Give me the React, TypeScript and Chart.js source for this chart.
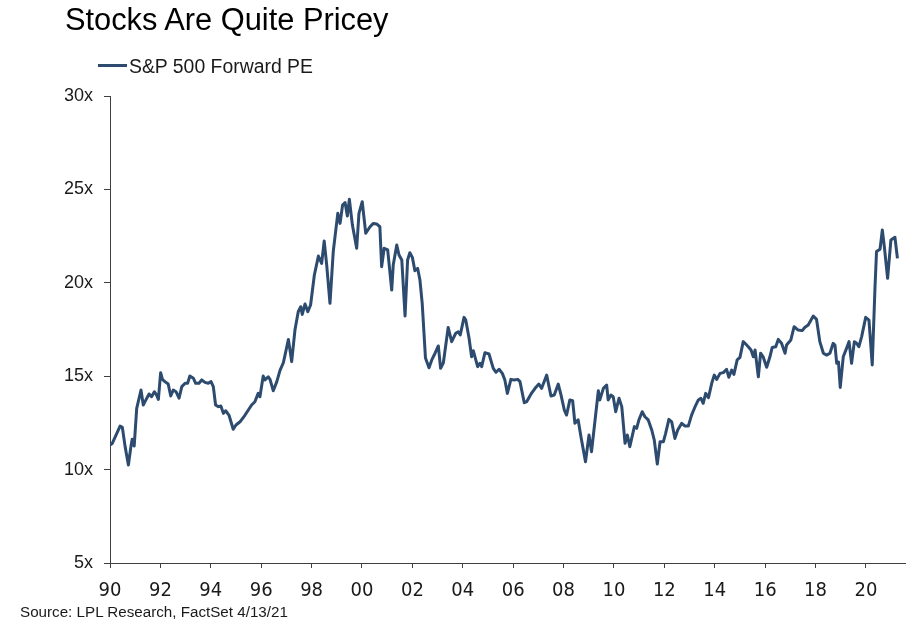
import React, { useEffect, useRef } from 'react';
import { Chart, registerables } from 'chart.js';

Chart.register(...registerables);

const titleText = 'Stocks Are Quite Pricey';
const seriesName = 'S&P 500 Forward PE';
const sourceText = 'Source: LPL Research, FactSet 4/13/21';

const years = [
  1990.00, 1990.09, 1990.27, 1990.40, 1990.49, 1990.60, 1990.73, 1990.83, 1990.88, 1990.96,
  1991.06, 1991.23, 1991.32, 1991.42, 1991.55, 1991.65, 1991.76, 1991.85, 1991.92,
  1992.01, 1992.08, 1992.18, 1992.31, 1992.41, 1992.51, 1992.62, 1992.74, 1992.85, 1992.98,
  1993.08, 1993.17, 1993.31, 1993.40, 1993.53, 1993.64, 1993.77, 1993.90,
  1994.01, 1994.10, 1994.19, 1994.30, 1994.40, 1994.50, 1994.59, 1994.72, 1994.89,
  1995.00, 1995.16, 1995.36, 1995.49, 1995.62, 1995.75, 1995.88, 1995.95,
  1996.08, 1996.15, 1996.28, 1996.35, 1996.48, 1996.62, 1996.75, 1996.88,
  1997.08, 1997.21, 1997.34, 1997.47, 1997.57, 1997.63, 1997.74, 1997.85, 1997.96,
  1998.11, 1998.27, 1998.40, 1998.50, 1998.60, 1998.73, 1998.86,
  1999.04, 1999.13, 1999.23, 1999.33, 1999.42, 1999.50, 1999.62, 1999.79, 1999.88,
  2000.01, 2000.15, 2000.32, 2000.45, 2000.58, 2000.71, 2000.78, 2000.88,
  2001.02, 2001.18, 2001.24, 2001.38, 2001.47, 2001.58, 2001.71, 2001.81, 2001.90,
  2002.00, 2002.10, 2002.21, 2002.30, 2002.39, 2002.52, 2002.66, 2002.77, 2002.90,
  2003.03, 2003.12, 2003.23, 2003.42, 2003.56, 2003.72, 2003.82, 2003.90,
  2004.05, 2004.12, 2004.25, 2004.35, 2004.42, 2004.59, 2004.68, 2004.75, 2004.88,
  2005.04, 2005.21, 2005.32, 2005.44, 2005.57, 2005.67, 2005.77, 2005.91,
  2006.04, 2006.18, 2006.27, 2006.44, 2006.54, 2006.71, 2006.87,
  2007.02, 2007.13, 2007.33, 2007.50, 2007.63, 2007.79, 2007.90,
  2008.03, 2008.12, 2008.25, 2008.36, 2008.45, 2008.58, 2008.69, 2008.87,
  2009.01, 2009.11, 2009.38, 2009.44, 2009.58, 2009.71, 2009.77, 2009.88, 2009.97,
  2010.07, 2010.20, 2010.31, 2010.44, 2010.53, 2010.63, 2010.81, 2010.90, 2010.99,
  2011.12, 2011.23, 2011.36, 2011.50, 2011.60, 2011.72, 2011.83, 2011.96,
  2012.05, 2012.18, 2012.29, 2012.42, 2012.53, 2012.69, 2012.82, 2012.95,
  2013.08, 2013.21, 2013.35, 2013.45, 2013.54, 2013.64, 2013.75, 2013.88, 2013.98,
  2014.08, 2014.21, 2014.34, 2014.47, 2014.56, 2014.67, 2014.76, 2014.89,
  2015.00, 2015.13, 2015.20, 2015.33, 2015.44, 2015.53, 2015.60, 2015.73, 2015.82, 2015.92,
  2016.06, 2016.19, 2016.28, 2016.42, 2016.52, 2016.65, 2016.79, 2016.85,
  2017.02, 2017.15, 2017.31, 2017.47, 2017.58, 2017.71, 2017.82, 2017.91,
  2018.04, 2018.17, 2018.31, 2018.44, 2018.57, 2018.70, 2018.77, 2018.84, 2018.91, 2018.98,
  2019.10, 2019.23, 2019.33, 2019.43, 2019.54, 2019.63, 2019.72, 2019.83, 2019.99,
  2020.12, 2020.25, 2020.36, 2020.42, 2020.56, 2020.65, 2020.73, 2020.86, 2020.99,
  2021.15, 2021.25,
];

const forwardPE = [
  11.32, 11.4, 11.94, 12.33, 12.26, 11.23, 10.25, 11.23, 11.62, 11.26,
  13.28, 14.26, 13.46, 13.72, 14.05, 13.9, 14.17, 13.99, 13.76,
  15.19, 14.83, 14.71, 14.58, 13.94, 14.26, 14.17, 13.82, 14.44, 14.62,
  14.62, 15.01, 14.89, 14.62, 14.62, 14.8, 14.67, 14.62,
  14.71, 14.44, 13.46, 13.37, 13.4, 13.01, 13.15, 12.92, 12.16,
  12.39, 12.56, 12.92, 13.19, 13.46, 13.63, 14.08, 13.9,
  15.01, 14.8, 14.97, 14.83, 14.22, 14.71, 15.33, 15.72,
  16.97, 15.78, 17.47, 18.45, 18.72, 18.31, 18.87, 18.45, 18.81,
  20.42, 21.43, 21.04, 22.24, 20.95, 18.9, 21.67,
  23.72, 23.18, 24.16, 24.29, 23.58, 24.47, 23.09, 21.85, 23.72,
  24.34, 22.65, 23.0, 23.18, 23.15, 23.0, 20.86, 21.85,
  21.76, 19.61, 20.95, 22.02, 21.49, 21.22, 18.22, 21.22, 21.61,
  21.36, 20.65, 20.77, 20.15, 18.9, 15.97, 15.45, 15.87, 16.23,
  16.62, 15.42, 15.72, 17.61, 16.85, 17.3, 17.38, 17.21,
  18.15, 18.0, 17.03, 16.04, 16.36, 15.51, 15.69, 15.51, 16.26,
  16.19, 15.42, 15.21, 15.37, 15.15, 14.8, 14.08, 14.83,
  14.8, 14.83, 14.71, 13.58, 13.64, 14.05, 14.35,
  14.58, 14.35, 15.06, 13.94, 13.99, 14.58, 13.99,
  13.19, 12.92, 13.73, 13.69, 12.48, 12.66, 11.76, 10.42,
  11.85, 10.96, 14.22, 13.73, 14.35, 14.53, 13.73, 13.99, 13.9,
  13.1, 13.82, 13.37, 11.41, 11.85, 11.23, 12.3, 12.21, 12.66,
  13.1, 12.83, 12.66, 12.12, 11.58, 10.3, 11.49, 11.49,
  11.94, 12.69, 12.56, 11.67, 12.12, 12.48, 12.33, 12.33,
  12.92, 13.34, 13.73, 13.82, 13.55, 14.08, 13.85, 14.62, 15.06,
  14.83, 15.15, 15.19, 15.37, 14.94, 15.33, 15.1, 15.87,
  16.01, 16.85, 16.76, 16.58, 16.4, 16.04, 16.4, 14.97, 16.23, 16.04,
  15.48, 16.04, 16.54, 16.58, 16.97, 16.76, 16.23, 16.67,
  16.94, 17.65, 17.47, 17.44, 17.62, 17.74, 18.01, 18.22,
  18.04, 16.85, 16.23, 16.13, 16.23, 16.76, 16.67, 15.69, 15.76, 14.4,
  16.04, 16.49, 16.85, 15.69, 16.85, 16.76, 16.58, 17.12, 18.15,
  18.0, 15.6, 19.79, 21.67, 21.8, 22.83, 21.93, 20.24, 22.29,
  22.44, 21.31,
];

const xTickYears = [1990, 1992, 1994, 1996, 1998, 2000, 2002, 2004, 2006, 2008, 2010, 2012, 2014, 2016, 2018, 2020];
const xTickLabels = ['90', '92', '94', '96', '98', '00', '02', '04', '06', '08', '10', '12', '14', '16', '18', '20'];
const yTickValues = [5, 10, 15, 20, 25, 30];
const yTickLabels = ['5x', '10x', '15x', '20x', '25x', '30x'];

const LINE_COLOR = '#2d4a6f';
const AXIS_COLOR = '#404040';
const TEXT_COLOR = '#1a1a1a';
const SANS = '"Liberation Sans", Arial, sans-serif';
const NARROW = '"Liberation Sans Narrow", "Arial Narrow", "Liberation Sans", Arial, sans-serif';
const CONDENSED = '"Liberation Sans Narrow", "Arial Narrow", "DejaVu Sans Condensed", "Liberation Sans", Arial, sans-serif';

export default function App() {
  const canvasRef = useRef<HTMLCanvasElement | null>(null);

  useEffect(() => {
    const canvas = canvasRef.current;
    if (!canvas) return;
    const n = Math.min(years.length, forwardPE.length);
    const points = [];
    for (let i = 0; i < n; i++) points.push({ x: years[i], y: forwardPE[i] });

    const chart = new Chart(canvas, {
      type: 'line',
      data: {
        datasets: [
          {
            label: seriesName,
            data: points,
            borderColor: LINE_COLOR,
            backgroundColor: LINE_COLOR,
            borderWidth: 3,
            pointRadius: 0,
            tension: 0,
            fill: false,
            borderJoinStyle: 'round',
          },
        ],
      },
      options: {
        animation: false,
        responsive: false,
        devicePixelRatio: 1,
        layout: { padding: { left: 65, right: 13, top: 96, bottom: 29 } },
        plugins: {
          legend: { display: false },
          title: { display: false },
          tooltip: { enabled: false },
        },
        events: [],
        scales: {
          x: {
            type: 'linear',
            min: 1990,
            max: 2021.55,
            afterBuildTicks: (scale: any) => {
              scale.ticks = xTickYears.map((v) => ({ value: v }));
            },
            afterFit: (scale: any) => {
              scale.height = 40;
            },
            ticks: {
              autoSkip: false,
              maxRotation: 0,
              minRotation: 0,
              padding: 11,
              color: TEXT_COLOR,
              font: { family: CONDENSED, size: 20 },
              callback: (_v: any, i: number) => xTickLabels[i],
            },
            grid: {
              drawOnChartArea: false,
              drawTicks: true,
              tickLength: 5,
              color: AXIS_COLOR,
            },
            border: { display: true, color: AXIS_COLOR, width: 1 },
          },
          y: {
            type: 'linear',
            min: 5,
            max: 30,
            afterBuildTicks: (scale: any) => {
              scale.ticks = yTickValues.map((v) => ({ value: v }));
            },
            afterFit: (scale: any) => {
              scale.width = 45;
            },
            ticks: {
              padding: 11,
              color: TEXT_COLOR,
              font: { family: SANS, size: 18 },
              callback: (_v: any, i: number) => yTickLabels[i],
            },
            grid: {
              drawOnChartArea: false,
              drawTicks: true,
              tickLength: 6,
              color: AXIS_COLOR,
            },
            border: { display: true, color: AXIS_COLOR, width: 1 },
          },
        },
      },
    } as any);

    return () => {
      chart.destroy();
    };
  }, []);

  return (
    <div
      style={{
        position: 'absolute',
        left: 0,
        top: 0,
        width: 918,
        height: 632,
        background: '#ffffff',
        overflow: 'hidden',
      }}
    >
      <canvas
        ref={canvasRef}
        width={918}
        height={632}
        style={{ position: 'absolute', left: 0, top: 0, width: 918, height: 632 }}
      />
      <div
        style={{
          position: 'absolute',
          left: 65,
          top: 3,
          font: `30.8px ${SANS}`,
          lineHeight: '34px',
          color: '#000',
          whiteSpace: 'nowrap',
        }}
      >
        {titleText}
      </div>
      <div
        style={{
          position: 'absolute',
          left: 98,
          top: 64,
          width: 29,
          height: 3,
          background: LINE_COLOR,
        }}
      />
      <div
        style={{
          position: 'absolute',
          left: 129,
          top: 55,
          font: `19.4px ${SANS}`,
          lineHeight: '22px',
          color: TEXT_COLOR,
          whiteSpace: 'nowrap',
        }}
      >
        {seriesName}
      </div>
      <div
        style={{
          position: 'absolute',
          left: 20,
          top: 603,
          font: `15.2px ${NARROW}`,
          lineHeight: '18px',
          color: TEXT_COLOR,
          whiteSpace: 'nowrap',
        }}
      >
        {sourceText}
      </div>
    </div>
  );
}
